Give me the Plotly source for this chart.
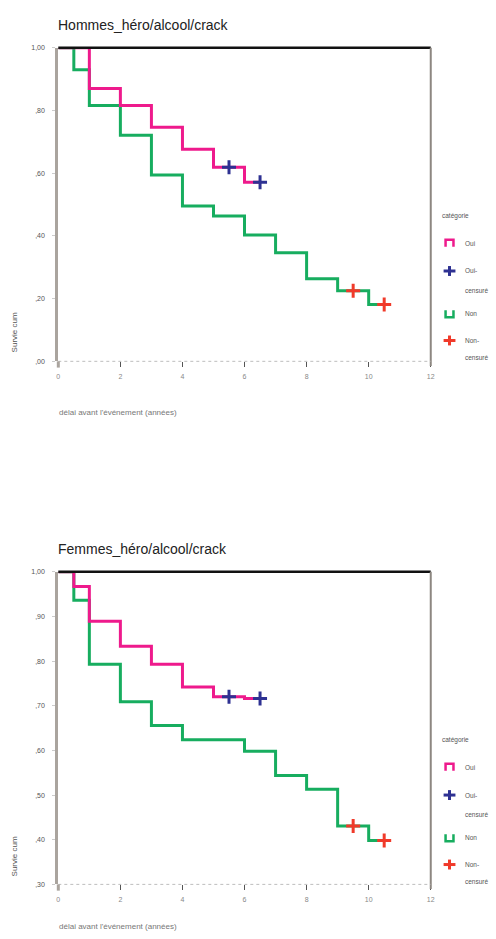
import plotly.graph_objects as go

W, H = 496, 939

# Kaplan-Meier estimates: event times (years) and cumulative survival.
# The last point repeats the final value to carry the curve to the last censored time.
hommes_t1 = [0, 1, 2, 3, 4, 5, 6, 6.5]
hommes_s1 = [1.0, 0.870, 0.816, 0.746, 0.676, 0.619, 0.571, 0.571]
hommes_c1 = [5.5, 6.5]

hommes_t2 = [0, 0.5, 1, 2, 3, 4, 5, 6, 7, 8, 9, 10, 10.5]
hommes_s2 = [1.0, 0.930, 0.816, 0.721, 0.594, 0.495, 0.463, 0.403, 0.346, 0.263, 0.225, 0.181, 0.181]
hommes_c2 = [9.5, 10.5]

femmes_t1 = [0, 0.5, 1, 2, 3, 4, 5, 6, 6.5]
femmes_s1 = [1.0, 0.967, 0.889, 0.833, 0.793, 0.742, 0.720, 0.716, 0.716]
femmes_c1 = [5.5, 6.5]

femmes_t2 = [0, 0.5, 1, 2, 3, 4, 6, 7, 8, 9, 10, 10.5]
femmes_s2 = [1.0, 0.936, 0.793, 0.709, 0.656, 0.624, 0.598, 0.544, 0.513, 0.431, 0.398, 0.398]
femmes_c2 = [9.5, 10.5]

x_ticks = [0, 2, 4, 6, 8, 10, 12]
hommes_yticks = [0.0, 0.2, 0.4, 0.6, 0.8, 1.0]
hommes_ylabels = [",00", ",20", ",40", ",60", ",80", "1,00"]
femmes_yticks = [0.3, 0.4, 0.5, 0.6, 0.7, 0.8, 0.9, 1.0]
femmes_ylabels = [",30", ",40", ",50", ",60", ",70", ",80", ",90", "1,00"]

cat_labels = ["Oui", "Non"]
legend_title = "catégorie"
x_title = "délai avant l'événement (années)"
y_title = "Survie cum"

PINK = "#ee1a8c"
GREEN = "#17ad5f"
BLUE = "#2e3192"
RED = "#f03a2a"
FONT = "Liberation Sans"


def surv_at(t, times, surv):
    """Value of the step function at time t."""
    val = surv[0]
    for ti, si in zip(times, surv):
        if ti <= t:
            val = si
    return val


def px(x):
    return x / W


def py(y):
    return 1 - y / H


panels = [
    dict(title="Hommes_héro/alcool/crack", top=44, bottom=360, yrange=[0, 1],
         yticks=hommes_yticks, ylabels=hommes_ylabels,
         curves=[(hommes_t2, hommes_s2, hommes_c2, GREEN, RED),
                 (hommes_t1, hommes_s1, hommes_c1, PINK, BLUE)]),
    dict(title="Femmes_héro/alcool/crack", top=572, bottom=887, yrange=[0.3, 1],
         yticks=femmes_yticks, ylabels=femmes_ylabels,
         curves=[(femmes_t2, femmes_s2, femmes_c2, GREEN, RED),
                 (femmes_t1, femmes_s1, femmes_c1, PINK, BLUE)]),
]

X0, X1 = 57, 434

fig = go.Figure()
shapes = []
annotations = []
layout_axes = {}

for i, p in enumerate(panels, start=1):
    xa = "x" if i == 1 else f"x{i}"
    ya = "y" if i == 1 else f"y{i}"
    for times, surv, cens, lcol, ccol in p["curves"]:
        fig.add_trace(go.Scatter(
            x=times, y=surv, mode="lines", line=dict(color=lcol, width=3, shape="hv"),
            xaxis=xa, yaxis=ya, showlegend=False, hoverinfo="skip"))
        fig.add_trace(go.Scatter(
            x=cens, y=[surv_at(t, times, surv) for t in cens], mode="markers",
            marker=dict(symbol="cross-thin", size=10, line=dict(color=ccol, width=3)),
            xaxis=xa, yaxis=ya, showlegend=False, hoverinfo="skip"))

    xkey = "xaxis" if i == 1 else f"xaxis{i}"
    ykey = "yaxis" if i == 1 else f"yaxis{i}"
    layout_axes[xkey] = dict(
        domain=[px(X0), px(X1)], anchor=ya, range=[0, 12],
        tickvals=x_ticks, ticktext=[str(v) for v in x_ticks],
        ticks="outside", ticklen=5, tickwidth=1, tickcolor="#555",
        ticklabelstandoff=3,
        tickfont=dict(family=FONT, size=7, color="#888"),
        showline=False, showgrid=False, zeroline=False, fixedrange=True)
    layout_axes[ykey] = dict(
        domain=[py(p["bottom"]), py(p["top"])], anchor=xa, range=p["yrange"],
        tickvals=p["yticks"], ticktext=p["ylabels"],
        ticks="outside", ticklen=3, tickwidth=1, tickcolor="#ccc",
        ticklabelstandoff=6,
        tickfont=dict(family=FONT, size=7, color="#555"),
        showline=True, linecolor="#aaa49e", linewidth=3,
        showgrid=False, zeroline=False, fixedrange=True)

    xd, yd = f"{xa} domain", f"{ya} domain"
    # frame: black top, grey right, dotted base, left axis extended slightly
    shapes += [
        dict(type="line", xref=xd, yref=yd, x0=0, x1=1, y0=1, y1=1,
             line=dict(color="#111", width=2.5)),
        dict(type="line", xref=xd, yref=yd, x0=1, x1=1, y0=-0.015, y1=1,
             line=dict(color="#8d8781", width=2)),
        dict(type="line", xref=xd, yref=yd, x0=0, x1=1, y0=0, y1=0,
             line=dict(color="#bdbdbd", width=1, dash="dot")),
        dict(type="line", xref=xd, yref=yd, x0=0, x1=0, y0=-0.02, y1=0,
             line=dict(color="#aaa49e", width=3)),
    ]

    top = p["top"]
    annotations += [
        dict(text=p["title"], x=px(X0 - 2), y=py(top - 23), xref="paper", yref="paper",
             xanchor="left", yanchor="middle", showarrow=False,
             font=dict(family=FONT, size=14, color="#222")),
        dict(text=x_title, x=px(X0 - 1), y=py(min(top + 368, 929)), xref="paper", yref="paper",
             xanchor="left", yanchor="middle", showarrow=False,
             font=dict(family=FONT, size=8, color="#777")),
        dict(text=y_title, x=px(13), y=py(top + 287), xref="paper", yref="paper",
             xanchor="center", yanchor="middle", textangle=-90, showarrow=False,
             font=dict(family=FONT, size=8, color="#555")),
    ]

    # legend block to the right of the frame
    lx = 453
    lt = 443
    leg = [
        (legend_title, lt, top + 170),
        (cat_labels[0], 467, top + 197),
        (cat_labels[0] + "-", 467, top + 225),
        ("censuré", 467, top + 245),
        (cat_labels[1], 467, top + 268),
        (cat_labels[1] + "-", 467, top + 295),
        ("censuré", 467, top + 312),
    ]
    for txt, x, y in leg:
        annotations.append(dict(text=txt, x=px(x), y=py(y), xref="paper", yref="paper",
                                xanchor="left", yanchor="middle", showarrow=False,
                                font=dict(family=FONT, size=6.5, color="#555")))

    def cap(xc, yc, col, up=True):
        w, h = 4, 3.5
        if up:
            path = (f"M {px(xc - w)} {py(yc + h)} L {px(xc - w)} {py(yc - h)} "
                    f"L {px(xc + w)} {py(yc - h)} L {px(xc + w)} {py(yc + h)}")
        else:
            path = (f"M {px(xc - w)} {py(yc - h)} L {px(xc - w)} {py(yc + h)} "
                    f"L {px(xc + w)} {py(yc + h)} L {px(xc + w)} {py(yc - h)}")
        return dict(type="path", xref="paper", yref="paper", path=path,
                    line=dict(color=col, width=2.5))

    def plus(xc, yc, col):
        return [
            dict(type="line", xref="paper", yref="paper", x0=px(xc - 6), x1=px(xc + 6),
                 y0=py(yc), y1=py(yc), line=dict(color=col, width=3)),
            dict(type="line", xref="paper", yref="paper", x0=px(xc), x1=px(xc),
                 y0=py(yc - 5), y1=py(yc + 5), line=dict(color=col, width=3)),
        ]

    shapes.append(cap(lx, top + 197, PINK, up=True))
    shapes += plus(lx, top + 225, BLUE)
    shapes.append(cap(lx, top + 268, GREEN, up=False))
    shapes += plus(lx, top + 295, RED)

fig.update_layout(
    width=W, height=H,
    margin=dict(l=0, r=0, t=0, b=0),
    paper_bgcolor="white", plot_bgcolor="white",
    showlegend=False,
    shapes=shapes, annotations=annotations,
    **layout_axes,
)

fig.write_html("out.html", config=dict(displayModeBar=False))
